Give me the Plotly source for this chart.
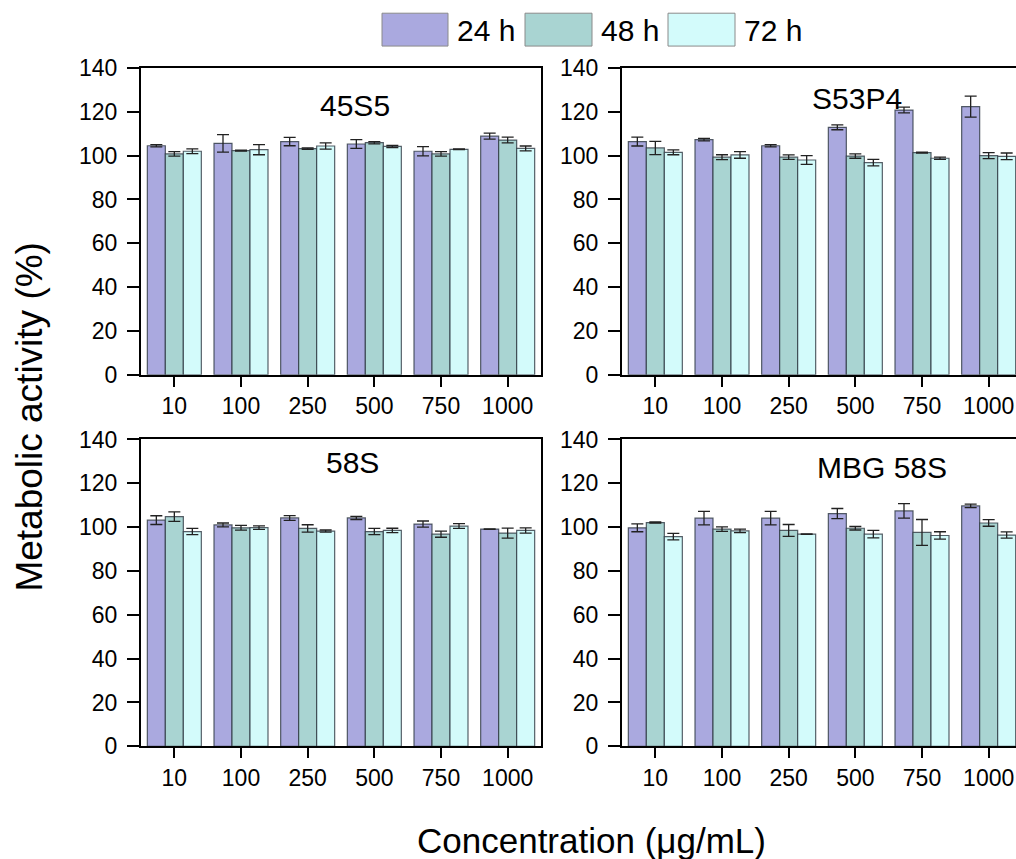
import plotly.graph_objects as go

W, H = 1016, 859

concentrations = ["10", "100", "250", "500", "750", "1000"]
series_names = ["24 h", "48 h", "72 h"]
colors = ["#AAA9DF", "#A9D4D2", "#D3FBFB"]

# 45S5
s45_24 = [104.5, 105.6, 106.4, 105.3, 102.0, 108.9]
s45_24_err = [0.5, 4.0, 1.9, 2.0, 2.1, 1.4]
s45_48 = [100.8, 102.3, 103.2, 105.9, 100.8, 107.1]
s45_48_err = [1.0, 0.2, 0.3, 0.5, 1.0, 1.3]
s45_72 = [102.0, 102.7, 104.4, 104.2, 102.9, 103.3]
s45_72_err = [1.1, 2.3, 1.4, 0.5, 0.2, 1.1]

# S53P4
s53_24 = [106.4, 107.3, 104.5, 112.9, 120.8, 122.4]
s53_24_err = [2.0, 0.6, 0.5, 1.1, 1.3, 4.8]
s53_48 = [103.5, 99.3, 99.3, 99.8, 101.4, 100.0]
s53_48_err = [3.0, 1.1, 1.0, 1.0, 0.2, 1.4]
s53_72 = [101.5, 100.3, 98.0, 96.8, 98.8, 99.7]
s53_72_err = [1.1, 1.5, 2.0, 1.5, 0.5, 1.5]

# 58S
s58_24 = [103.2, 101.0, 104.2, 104.2, 101.4, 99.1]
s58_24_err = [2.0, 0.9, 1.1, 0.7, 1.4, 0.1]
s58_48 = [104.8, 99.7, 99.4, 98.0, 96.8, 97.3]
s58_48_err = [2.2, 1.1, 1.7, 1.4, 1.4, 2.3]
s58_72 = [98.0, 99.8, 98.2, 98.5, 100.5, 98.5]
s58_72_err = [1.4, 0.8, 0.5, 1.0, 1.1, 1.2]

# MBG 58S
mbg_24 = [99.7, 104.1, 104.1, 106.2, 107.4, 109.7]
mbg_24_err = [1.8, 3.1, 3.1, 2.3, 3.3, 0.8]
mbg_48 = [102.1, 99.1, 98.5, 99.5, 97.6, 101.9]
mbg_48_err = [0.3, 1.0, 2.7, 0.8, 5.9, 1.5]
mbg_72 = [95.7, 98.3, 96.8, 96.8, 96.2, 96.4]
mbg_72_err = [1.5, 0.8, 0.1, 1.7, 1.7, 1.4]

panel_titles = ["45S5", "S53P4", "58S", "MBG 58S"]
panels = [
    [(s45_24, s45_24_err), (s45_48, s45_48_err), (s45_72, s45_72_err)],
    [(s53_24, s53_24_err), (s53_48, s53_48_err), (s53_72, s53_72_err)],
    [(s58_24, s58_24_err), (s58_48, s58_48_err), (s58_72, s58_72_err)],
    [(mbg_24, mbg_24_err), (mbg_48, mbg_48_err), (mbg_72, mbg_72_err)],
]

y_ticks = [0, 20, 40, 60, 80, 100, 120, 140]

FONT = "Arial, Liberation Sans, sans-serif"

def px_x(p):
    return p / W

def px_y(p):
    q = (p - 11.8) / 0.9736
    return 1 - q / H

# panel pixel boxes: (left, right, top, bottom)
boxes = [
    (141, 541, 67, 375),
    (622, 1016, 67, 375),
    (141, 541, 440, 748),
    (622, 1016, 440, 748),
]
xranges = [[-0.5, 5.5], [-0.5, 5.41], [-0.5, 5.5], [-0.5, 5.41]]

fig = go.Figure()
for i, panel in enumerate(panels):
    ax = "" if i == 0 else str(i + 1)
    for j, (vals, errs) in enumerate(panel):
        fig.add_trace(go.Bar(
            x=concentrations, y=vals, name=series_names[j],
            marker=dict(color=colors[j], line=dict(color="rgba(45,55,65,0.8)", width=1.2)),
            error_y=dict(type="data", array=errs, visible=True, color="#222222",
                         thickness=1.3, width=6),
            xaxis="x" + ax, yaxis="y" + ax, showlegend=False,
            offsetgroup=str(j),
        ))

layout = dict(
    width=W, height=H,
    margin=dict(l=0, r=0, t=0, b=0),
    paper_bgcolor="white", plot_bgcolor="white",
    barmode="group", bargap=0.19, bargroupgap=0,
    font=dict(family=FONT, color="black", size=23),
    showlegend=False,
)

for i, (l, r, t, b) in enumerate(boxes):
    ax = "" if i == 0 else str(i + 1)
    right_cut = i in (1, 3)
    layout["xaxis" + ax] = dict(
        domain=[px_x(l), px_x(r)], anchor="y" + ax, type="category",
        range=xranges[i], showline=True, linecolor="black", linewidth=2,
        mirror=True, ticks="outside", ticklen=10, tickwidth=2, tickcolor="black",
        showgrid=False, zeroline=False, tickfont=dict(size=23, family=FONT),
        fixedrange=True,
    )
    layout["yaxis" + ax] = dict(
        domain=[px_y(b), px_y(t)], anchor="x" + ax, range=[0, 140],
        tickvals=y_ticks, showline=True, linecolor="black", linewidth=2,
        mirror=(not right_cut), ticks="outside", ticklen=12, tickwidth=2,
        tickcolor="black", showgrid=False, zeroline=False, ticklabelstandoff=5,
        tickfont=dict(size=23, family=FONT), fixedrange=True,
    )

fig.update_layout(**layout)

# panel titles
title_pos = [(355, 105), (857, 98), (352, 463), (882, 468)]
for (tx, ty), txt in zip(title_pos, panel_titles):
    fig.add_annotation(x=px_x(tx), y=px_y(ty), xref="paper", yref="paper",
                       text=txt, showarrow=False, font=dict(size=30, family=FONT),
                       xanchor="center", yanchor="middle")

# legend drawn as boxes with labels
legend_boxes = [(382, 448), (525, 592), (668, 735)]
for (x0, x1), c, name in zip(legend_boxes, colors, series_names):
    fig.add_shape(type="rect", xref="paper", yref="paper",
                  x0=px_x(x0), x1=px_x(x1), y0=px_y(45), y1=px_y(12),
                  fillcolor=c, line=dict(color="#8a8a8a", width=1))
    fig.add_annotation(x=px_x(x1 + 7), y=px_y(29), xref="paper", yref="paper",
                       text=name, showarrow=False, font=dict(size=30, family=FONT),
                       xanchor="left", yanchor="middle")

# axis titles
fig.add_annotation(x=px_x(30), y=px_y(417), xref="paper", yref="paper",
                   text="Metabolic activity (%)", showarrow=False, textangle=-90,
                   font=dict(size=37, family=FONT), xanchor="center", yanchor="middle")
fig.add_annotation(x=px_x(591), y=px_y(843), xref="paper", yref="paper",
                   text="Concentration (μg/mL)", showarrow=False,
                   font=dict(size=35, family=FONT), xanchor="center", yanchor="middle")

fig.write_html("out.html")
